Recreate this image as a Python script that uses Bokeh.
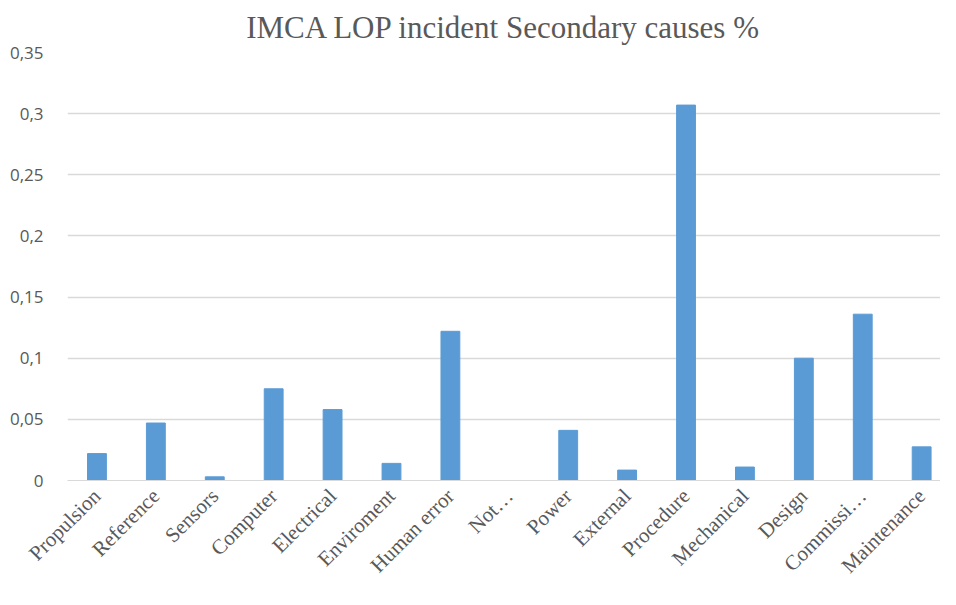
from bokeh.plotting import figure
from bokeh.models import ColumnDataSource, Range1d, FixedTicker, Title
from bokeh.embed import file_html
from bokeh.resources import INLINE
import math

categories = ["Propulsion", "Reference", "Sensors", "Computer", "Electrical",
              "Enviroment", "Human error", "Not\u2026", "Power", "External",
              "Procedure", "Mechanical", "Design", "Commissi\u2026", "Maintenance"]
values = [0.022, 0.047, 0.003, 0.075, 0.058, 0.014, 0.122, 0.0, 0.041,
          0.0085, 0.307, 0.011, 0.1, 0.136, 0.0275]
y_ticks = [0, 0.05, 0.1, 0.15, 0.2, 0.25, 0.3, 0.35]
y_tick_labels = ["0", "0,05", "0,1", "0,15", "0,2", "0,25", "0,3", "0,35"]
title_text = "IMCA LOP incident Secondary causes %"

xs = list(range(len(categories)))
src = ColumnDataSource(dict(x=xs, top=values, cat=categories))

p = figure(width=940, height=589, output_backend="svg", toolbar_location=None,
           x_range=Range1d(-0.5, len(categories) - 0.68),
           y_range=Range1d(0, 0.35),
           min_border_left=67, min_border_right=0, min_border_top=50,
           min_border_bottom=96)

p.title = Title(text=title_text, align="center", text_font="Liberation Serif",
                text_font_size="31px", text_font_style="normal",
                text_color="#595959", offset=0, standoff=15)

p.vbar(x="x", top="top", width=0.32, source=src, color="#5b9bd5")

p.xaxis.ticker = FixedTicker(ticks=xs)
p.xaxis.major_label_overrides = {i: c for i, c in zip(xs, categories)}
p.xaxis.major_label_orientation = math.pi / 4
p.xaxis.major_label_text_font = "Liberation Serif"
p.xaxis.major_label_text_font_size = "21px"
p.xaxis.major_label_text_line_height = 0.7
p.xaxis.major_label_text_color = "#595959"
p.xaxis.major_tick_line_color = None
p.xaxis.minor_tick_line_color = None
p.xaxis.axis_line_color = "#d9d9d9"
p.xaxis.major_label_standoff = 6

p.yaxis.ticker = FixedTicker(ticks=y_ticks)
p.yaxis.major_label_overrides = {t: l for t, l in zip(y_ticks, y_tick_labels)}
p.yaxis.major_label_text_font = "Open Sans"
p.yaxis.major_label_text_font_size = "17px"
p.yaxis.major_label_text_color = "#595959"
p.yaxis.major_tick_line_color = None
p.yaxis.minor_tick_line_color = None
p.yaxis.axis_line_color = None
p.yaxis.major_label_standoff = 18

p.xgrid.grid_line_color = None
p.ygrid.grid_line_color = "#d9d9d9"
p.ygrid.grid_line_width = 1.5
p.outline_line_color = None
p.background_fill_color = "white"
p.border_fill_color = "white"

open("out.html", "w").write(file_html(p, INLINE))
